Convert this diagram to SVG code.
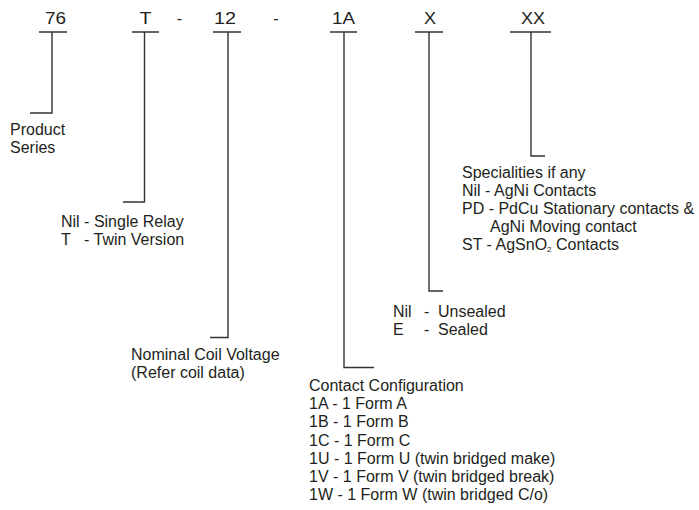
<svg xmlns="http://www.w3.org/2000/svg" width="699" height="510" viewBox="0 0 699 510">
<style>
text{font-family:"Liberation Sans",Arial,Helvetica,sans-serif;fill:#231f20}
.h{font-size:16px}
.t{font-size:16px}
.ln{fill:none;stroke:#333;stroke-width:1.4}
</style>
<rect width="699" height="510" fill="#fff"/>
<g id="header">
<text class="h" x="55.5" y="24" text-anchor="middle" textLength="21" lengthAdjust="spacingAndGlyphs">76</text>
<text class="h" x="145.5" y="24" text-anchor="middle" textLength="12" lengthAdjust="spacingAndGlyphs">T</text>
<text class="h" x="179.5" y="24" text-anchor="middle">-</text>
<text class="h" x="225" y="24" text-anchor="middle" textLength="22" lengthAdjust="spacingAndGlyphs">12</text>
<text class="h" x="276" y="24" text-anchor="middle">-</text>
<text class="h" x="343.5" y="24" text-anchor="middle" textLength="23" lengthAdjust="spacingAndGlyphs">1A</text>
<text class="h" x="430" y="24" text-anchor="middle" textLength="12" lengthAdjust="spacingAndGlyphs">X</text>
<text class="h" x="533" y="24" text-anchor="middle" textLength="24" lengthAdjust="spacingAndGlyphs">XX</text>
</g>
<g id="connectors">
<path class="ln" d="M39 32H67M52 32V113H30"/>
<path class="ln" d="M132 32H159M144.5 32V202H123"/>
<path class="ln" d="M213 32H241M228 32V337.5H210"/>
<path class="ln" d="M330 32H357M344 32V367.5H374"/>
<path class="ln" d="M415 32H443M429 32V291H443"/>
<path class="ln" d="M510 32H551M531 32V156H545"/>
</g>
<g id="product-series">
<text class="t" x="10" y="135">Product</text>
<text class="t" x="10" y="153">Series</text>
</g>
<g id="relay-type">
<text class="t" x="61" y="227">Nil - Single Relay</text>
<text class="t" x="61" y="245">T</text>
<text class="t" x="84" y="245">- Twin Version</text>
</g>
<g id="coil-voltage">
<text class="t" x="131" y="360">Nominal Coil Voltage</text>
<text class="t" x="131" y="378">(Refer coil data)</text>
</g>
<g id="contact-configuration">
<text class="t" x="309" y="391">Contact Configuration</text>
<text class="t" x="309" y="409.2">1A - 1 Form A</text>
<text class="t" x="309" y="427.4">1B - 1 Form B</text>
<text class="t" x="309" y="445.6">1C - 1 Form C</text>
<text class="t" x="309" y="463.8">1U - 1 Form U (twin bridged make)</text>
<text class="t" x="309" y="482">1V - 1 Form V (twin bridged break)</text>
<text class="t" x="309" y="500.2">1W - 1 Form W (twin bridged C/o)</text>
</g>
<g id="sealing">
<text class="t" x="393" y="317">Nil</text>
<text class="t" x="424" y="317">-</text>
<text class="t" x="438" y="317">Unsealed</text>
<text class="t" x="393" y="335">E</text>
<text class="t" x="424" y="335">-</text>
<text class="t" x="438" y="335">Sealed</text>
</g>
<g id="specialities">
<text class="t" x="462" y="178">Specialities if any</text>
<text class="t" x="462" y="196">Nil - AgNi Contacts</text>
<text class="t" x="462" y="214">PD - PdCu Stationary contacts &amp;</text>
<text class="t" x="490" y="232">AgNi Moving contact</text>
<text class="t" x="462" y="250">ST - AgSnO<tspan font-size="8" dy="2">2</tspan><tspan dy="-2"> Contacts</tspan></text>
</g>
</svg>
